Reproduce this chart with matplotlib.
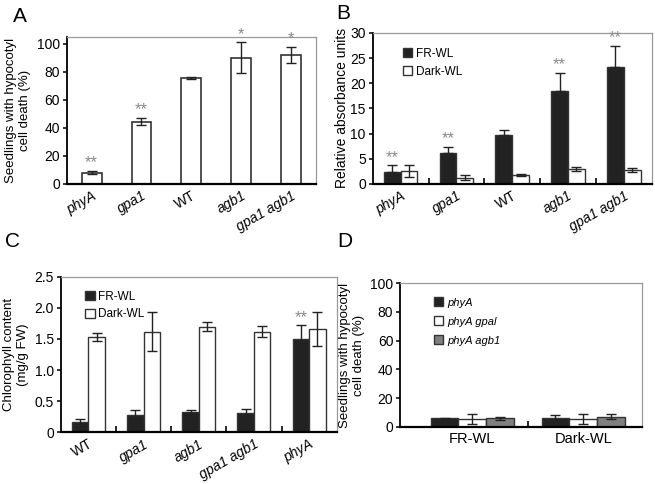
import numpy as np
import matplotlib.pyplot as plt

plt.rcParams["font.family"] = ["Liberation Sans", "DejaVu Sans"]
plt.rcParams["font.size"] = 9.5

# --- Panel A data ---
a_labels = ["phyA", "gpa1", "WT", "agb1", "gpa1 agb1"]
a_vals = [8, 44.5, 75.5, 90, 92]
a_err = [1.2, 2.8, 0.5, 11, 5.5]
a_stars = ["**", "**", "", "*", "*"]

# --- Panel B data ---
b_labels = ["phyA", "gpa1", "WT", "agb1", "gpa1 agb1"]
b_fr = [2.4, 6.2, 9.8, 18.5, 23.2]
b_fr_err = [1.3, 1.2, 1.0, 3.6, 4.2]
b_dark = [2.5, 1.2, 1.7, 3.0, 2.8]
b_dark_err = [1.2, 0.5, 0.2, 0.4, 0.4]
b_stars = ["**", "**", "", "**", "**"]

# --- Panel C data ---
c_labels = ["WT", "gpa1", "agb1", "gpa1 agb1", "phyA"]
c_fr = [0.17, 0.28, 0.33, 0.31, 1.50]
c_fr_err = [0.05, 0.08, 0.02, 0.07, 0.22]
c_dark = [1.53, 1.62, 1.70, 1.62, 1.66]
c_dark_err = [0.06, 0.31, 0.07, 0.09, 0.27]
c_stars = ["", "", "", "", "**"]

# --- Panel D data ---
d_groups = ["FR-WL", "Dark-WL"]
d_phya = [6.0, 6.0]
d_phya_err = [0.5, 2.0]
d_gpa = [5.5, 5.5]
d_gpa_err = [3.5, 3.5]
d_agb = [6.0, 7.0]
d_agb_err = [1.0, 1.8]

BLACK = "#222222"
EDGE = "#333333"
GRAY = "#808080"
STAR = "#8a8a8a"
ekw = dict(ecolor="#222222", elinewidth=1.0, capsize=3.5, capthick=1.0)
TICK_FS = 10
LABEL_FS = 9.5


def style_axes(ax):
    for side in ["top", "right"]:
        ax.spines[side].set_color("#999999")
        ax.spines[side].set_linewidth(0.9)
    ax.spines["left"].set_linewidth(1.3)
    ax.spines["bottom"].set_linewidth(1.6)
    ax.tick_params(axis="y", direction="out", length=3, width=1.1, labelsize=TICK_FS, pad=2)
    ax.tick_params(axis="x", which="major", length=0, labelsize=10)


def cat_labels(ax, labels):
    ax.set_xticks(np.arange(len(labels)))
    ax.set_xticklabels(labels, rotation=30, ha="right", rotation_mode="anchor")
    for t in ax.get_xticklabels():
        t.set_style("normal" if t.get_text() == "WT" else "italic")


def boundary_ticks(ax, n):
    ax.set_xticks(np.arange(n - 1) + 0.5, minor=True)
    ax.tick_params(axis="x", which="minor", direction="in", length=4, width=1.2)


fig = plt.figure(figsize=(6.55, 4.84), dpi=100)

# Panel A
ax = fig.add_axes([0.102, 0.620, 0.380, 0.304])
x = np.arange(len(a_labels))
ax.bar(x, a_vals, 0.4, color="white", edgecolor=EDGE, linewidth=1.2,
       yerr=a_err, error_kw=ekw)
for xi, v, e, s in zip(x, a_vals, a_err, a_stars):
    if s:
        ax.text(xi, v + e + 0.5, s, ha="center", va="bottom", color=STAR, fontsize=12)
ax.set_xlim(-0.5, 4.5)
ax.set_ylim(0, 105)
ax.set_yticks([0, 20, 40, 60, 80, 100])
ax.set_ylabel("Seedlings with hypocotyl\ncell death (%)", fontsize=LABEL_FS, labelpad=4)
style_axes(ax)
cat_labels(ax, a_labels)
fig.text(0.02, 0.955, "A", fontsize=15)

# Panel B
ax = fig.add_axes([0.569, 0.620, 0.426, 0.312])
x = np.arange(len(b_labels))
w = 0.3
ax.bar(x - w / 2, b_fr, w, color=BLACK, edgecolor=EDGE, linewidth=1.0,
       yerr=[np.zeros(len(b_fr)), b_fr_err], error_kw=ekw, label="FR-WL")
ax.bar(x + w / 2, b_dark, w, color="white", edgecolor=EDGE, linewidth=1.0,
       yerr=b_dark_err, error_kw=ekw, label="Dark-WL")
for xi, v, e, s in zip(x, b_fr, b_fr_err, b_stars):
    if s:
        ax.text(xi - w / 2, v + e + 0.1, s, ha="center", va="bottom", color=STAR, fontsize=12)
ax.set_xlim(-0.5, 4.5)
ax.set_ylim(0, 30)
ax.set_yticks([0, 5, 10, 15, 20, 25, 30])
ax.set_ylabel("Relative absorbance units", fontsize=LABEL_FS + 0.5, labelpad=1)
style_axes(ax)
cat_labels(ax, b_labels)
boundary_ticks(ax, len(b_labels))
ax.legend(loc="upper left", bbox_to_anchor=(0.07, 0.97), frameon=False, fontsize=8.5,
          handlelength=0.8, handleheight=0.8, handletextpad=0.3, labelspacing=0.5)
fig.text(0.513, 0.96, "B", fontsize=15)

# Panel C
ax = fig.add_axes([0.093, 0.107, 0.421, 0.321])
x = np.arange(len(c_labels))
ax.bar(x - w / 2, c_fr, w, color=BLACK, edgecolor=EDGE, linewidth=1.0,
       yerr=c_fr_err, error_kw=ekw, label="FR-WL")
ax.bar(x + w / 2, c_dark, w, color="white", edgecolor=EDGE, linewidth=1.0,
       yerr=c_dark_err, error_kw=ekw, label="Dark-WL")
for xi, v, e, s in zip(x, c_fr, c_fr_err, c_stars):
    if s:
        ax.text(xi - w / 2, v + e + 0.01, s, ha="center", va="bottom", color=STAR, fontsize=12)
ax.set_xlim(-0.5, 4.5)
ax.set_ylim(0, 2.5)
ax.set_yticks([0, 0.5, 1.0, 1.5, 2.0, 2.5])
ax.set_yticklabels(["0", "0.5", "1.0", "1.5", "2.0", "2.5"])
ax.set_ylabel("Chlorophyll content\n(mg/g FW)", fontsize=LABEL_FS, labelpad=4)
style_axes(ax)
cat_labels(ax, c_labels)
boundary_ticks(ax, len(c_labels))
ax.legend(loc="upper left", bbox_to_anchor=(0.05, 0.98), frameon=False, fontsize=8.5,
          handlelength=0.8, handleheight=0.8, handletextpad=0.3, labelspacing=0.5)
fig.text(0.008, 0.49, "C", fontsize=15)

# Panel D
ax = fig.add_axes([0.611, 0.118, 0.369, 0.297])
x = np.arange(len(d_groups))
wd = 0.25
ax.bar(x - wd, d_phya, wd, color=BLACK, edgecolor=EDGE, linewidth=1.0,
       yerr=d_phya_err, error_kw=ekw, label="phyA")
ax.bar(x, d_gpa, wd, color="white", edgecolor=EDGE, linewidth=1.0,
       yerr=d_gpa_err, error_kw=ekw, label="phyA gpal")
ax.bar(x + wd, d_agb, wd, color=GRAY, edgecolor=EDGE, linewidth=1.0,
       yerr=d_agb_err, error_kw=ekw, label="phyA agb1")
ax.set_xlim(-0.65, 1.53)
ax.set_ylim(0, 100)
ax.set_yticks([0, 20, 40, 60, 80, 100])
ax.set_ylabel("Seedlings with hypocotyl\ncell death (%)", fontsize=LABEL_FS, labelpad=4)
style_axes(ax)
ax.set_xticks(x)
ax.set_xticklabels(d_groups, fontsize=10.5)
ax.tick_params(axis="x", which="major", pad=4)
boundary_ticks(ax, len(d_groups))
leg = ax.legend(loc="upper left", bbox_to_anchor=(0.1, 0.97), frameon=False, fontsize=8,
                handlelength=0.8, handleheight=0.8, handletextpad=0.4, labelspacing=0.8)
for t in leg.get_texts():
    t.set_style("italic")
fig.text(0.515, 0.49, "D", fontsize=15)

fig.savefig("out.png", dpi=100)
